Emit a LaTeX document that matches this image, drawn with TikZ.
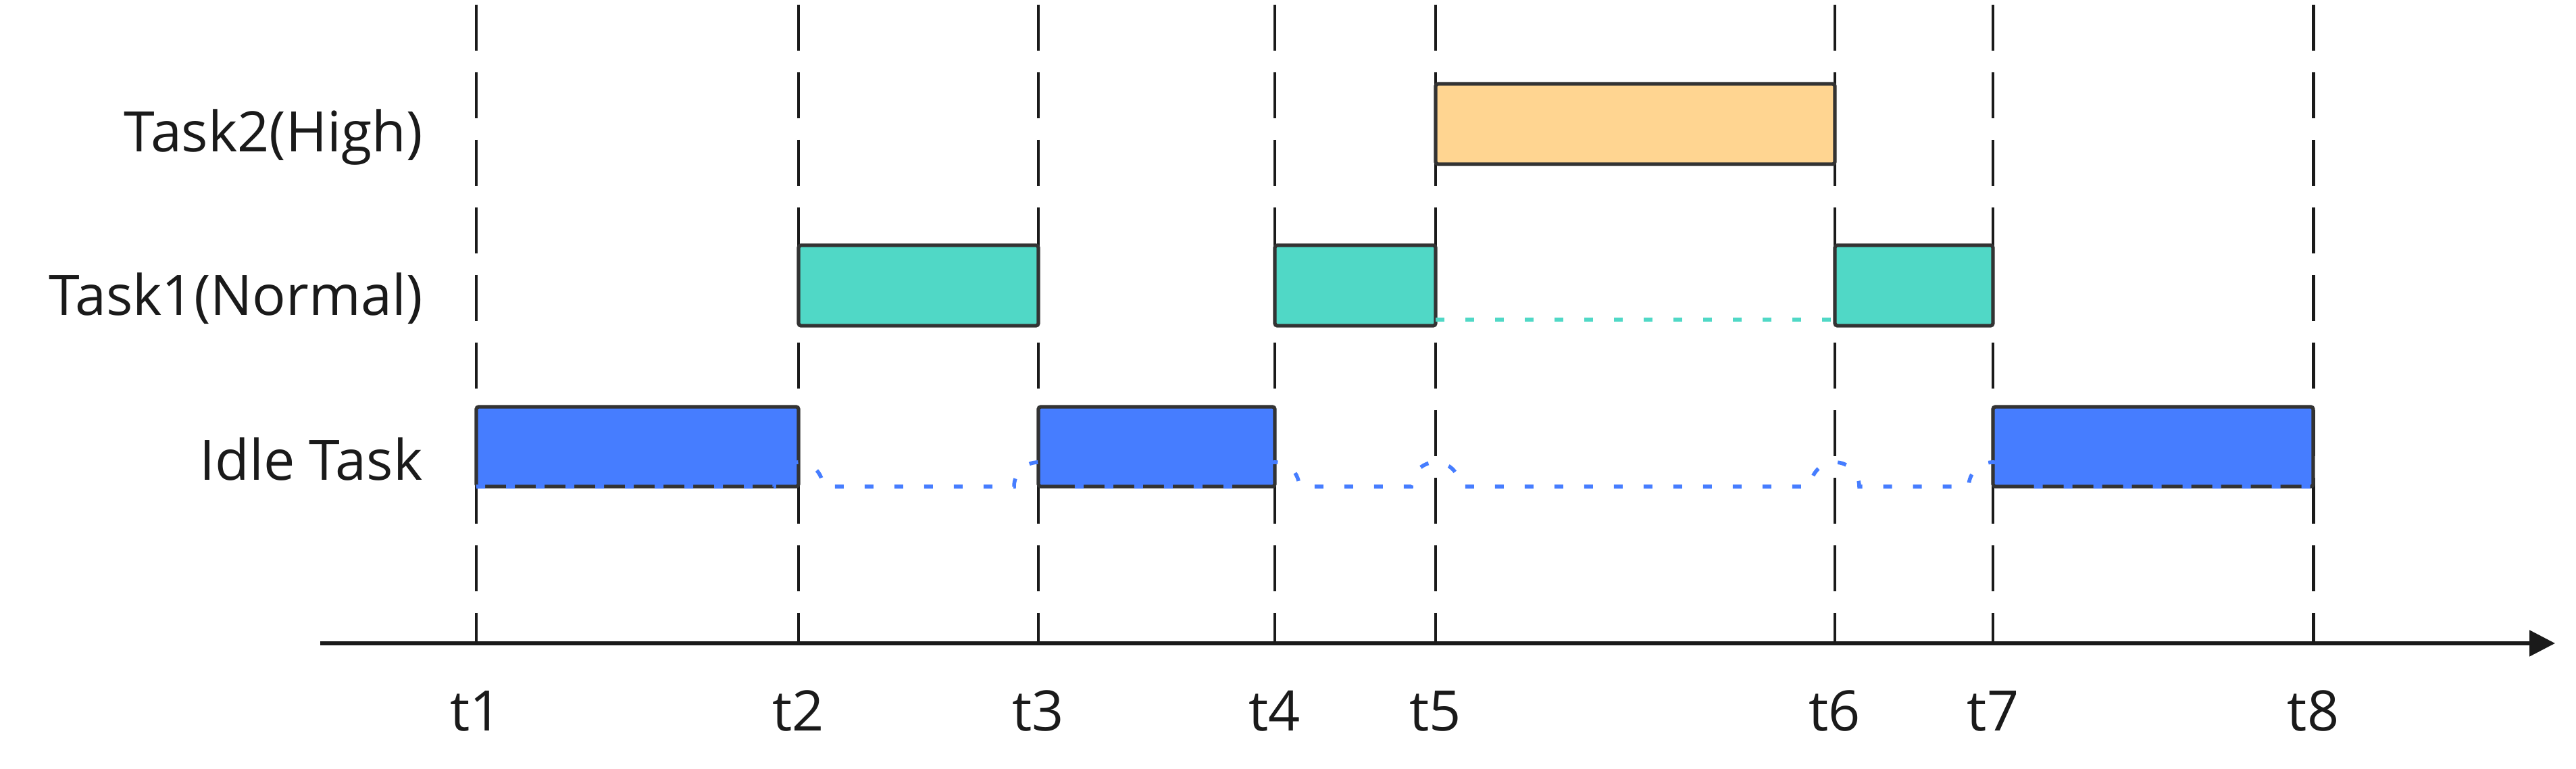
\documentclass[tikz,border=0pt]{standalone}
\usepackage{fontspec}
\setmainfont{Open Sans}
\usetikzlibrary{arrows.meta, calc}
\definecolor{idle-blue}{RGB}{70,125,255}
\definecolor{norm-teal}{RGB}{80,216,198}
\definecolor{high-orange}{RGB}{255,213,145}
\definecolor{edge-gray}{RGB}{51,51,51}
\definecolor{ink}{RGB}{26,26,26}

\begin{document}
\begin{tikzpicture}[
  >=Stealth,
  slot/.style={draw=edge-gray, line width=1.5pt, rounded corners=1pt},
  idle/.style={slot, fill=idle-blue},
  normal/.style={slot, fill=norm-teal},
  high/.style={slot, fill=high-orange},
  guide/.style={ink, line width=1.4pt, dash pattern=on 0.68cm off 0.32cm},
  wait/.style={line width=1.6pt, dash pattern=on 0.13cm off 0.31cm},
  lbl/.style={font=\fontsize{23.5}{28}\selectfont, text=ink},
]
\useasboundingbox (0,0) rectangle (38.13,11.37);

% time marks
\foreach \n/\x in {1/7.05, 2/11.82, 3/15.37, 4/18.87, 5/21.25, 6/27.16, 7/29.50, 8/34.24}
  \coordinate (t\n) at (\x,0);
\coordinate (top) at (0,11.30);
\coordinate (ax)  at (0,1.85);
\coordinate (wl)  at (0,4.17);
\coordinate (nl)  at (0,6.64);

\foreach \n in {1,...,8}
  \draw[guide] (t\n|-top) -- (t\n|-ax);

% task slots
\foreach \a/\b in {t1/t2, t3/t4, t7/t8}
  \draw[idle] (\a|-0,4.17) rectangle (\b|-0,5.35);
\foreach \a/\b in {t2/t3, t4/t5, t6/t7}
  \draw[normal] (\a|-0,6.55) rectangle (\b|-0,7.74);
\draw[high] (t5|-0,8.94) rectangle (t6|-0,10.13);

% waiting lines
\def\hop{0.36}
\draw[wait, idle-blue] (t1|-wl)
  foreach \t in {t2,t3,t4,t5,t6,t7} {
    -- ($(\t|-wl)+(-\hop,0)$) arc[start angle=180, end angle=0, radius=\hop]
  } -- (t8|-wl);
\draw[wait, norm-teal] (t5|-nl) -- (t6|-nl);

% time axis
\coordinate (ax0) at (4.74,1.85);
\coordinate (ax1) at (37.82,1.85);
\draw[ink, line width=1.5pt, -{Triangle[length=0.38cm, width=0.38cm]}] (ax0) -- (ax1);

\foreach \n/\x in {1/7.05, 2/11.82, 3/15.37, 4/18.87, 5/21.25, 6/27.16, 7/29.50, 8/34.24}
  \node[lbl] (lt\n) at (\x,0.85) {t\n};

\node[lbl, anchor=east] (high) at (6.38,9.34) {Task2(High)};
\node[lbl, anchor=east] (norm) at (6.38,6.95) {Task1(Normal)};
\node[lbl, anchor=east] (idle) at (6.38,4.57) {Idle Task};
\end{tikzpicture}
\end{document}
